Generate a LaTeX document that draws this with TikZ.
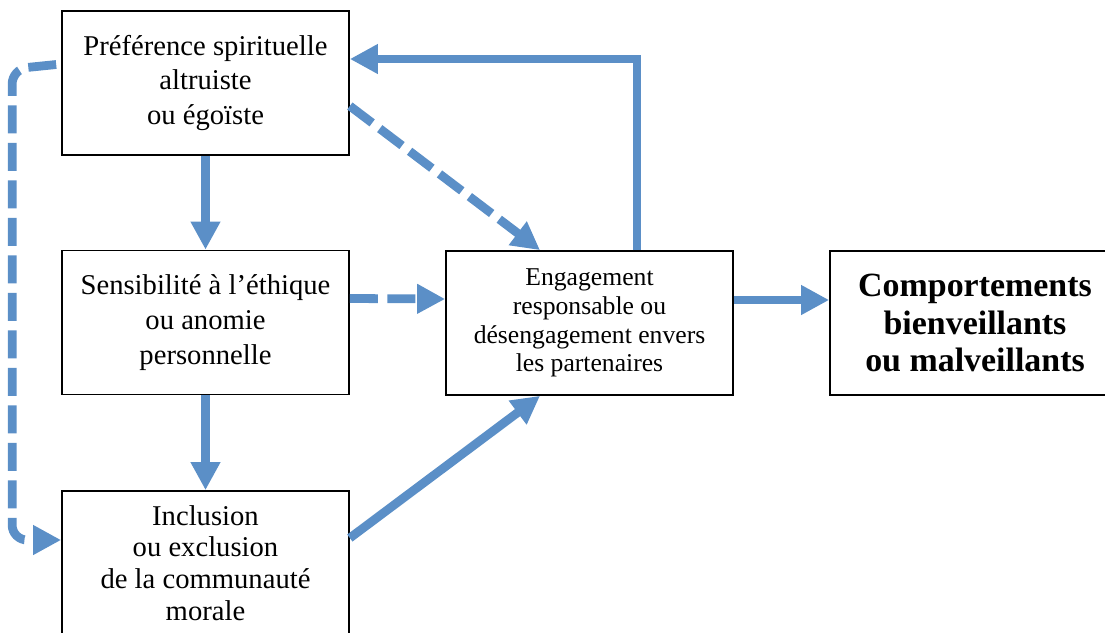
\documentclass[tikz,border=0pt]{standalone}
\usepackage{fontspec}
\setmainfont{Liberation Serif}
\usetikzlibrary{arrows.meta}
\definecolor{arrowblue}{RGB}{91,143,199}

\begin{document}
\begin{tikzpicture}[x=0.02cm, y=-0.02cm,
    box/.style={draw, line width=1pt, minimum width=5.74cm, minimum height=2.88cm,
      align=center, inner sep=2pt, font=\fontsize{16.3}{19.8}\selectfont},
    flow/.style={draw=arrowblue, line width=5pt, -{Triangle[width=0.56cm,length=0.56cm]}},
    flowdash/.style={flow, dash pattern=on 0.56cm off 0.19cm}]
    \path[use as bounding box, clip] (0,0) rectangle (1105,632);

    % boxes
    \node[box] (pref) at (205.5,83) {Préférence spirituelle\\altruiste\\ou égoïste};
    \node[box] (sens) at (205.5,322.5) {Sensibilité à l’éthique\\ou anomie\\personnelle};
    \node[box, font=\fontsize{16.3}{18}\selectfont] (incl) at (205.5,563) {Inclusion\\ou exclusion\\de la communauté\\morale};
    \node[box, font=\fontsize{14.6}{16.4}\selectfont] (engag) at (589.5,323) {Engagement\\responsable ou\\désengagement envers\\les partenaires};
    \node[box, minimum width=5.8cm, font=\bfseries\fontsize{19.3}{21.3}\selectfont] (comp) at (975,323) {Comportements\\bienveillants\\ou malveillants};

    % arrows
    \draw[flow] (pref.south) -- (sens.north);
    \draw[flow] (sens.south) -- (incl.north);
    \draw[flowdash] ([yshift=0.48cm]sens.east) -- ([yshift=0.48cm]engag.west);
    \draw[flowdash] ([yshift=-0.46cm]pref.east) -- ([xshift=-0.99cm]engag.north);
    \draw[flow] ([yshift=0.5cm]incl.east) -- ([xshift=-0.99cm]engag.south);
    \draw[flow] ([xshift=0.95cm]engag.north) |- ([yshift=0.48cm]pref.east);
    \draw[flow] ([yshift=0.46cm]engag.east) -- ([yshift=0.46cm]comp.west);
    \draw[flowdash, rounded corners=0.3cm, shorten <=0.1cm]
      ([yshift=0.38cm]pref.west) -- ++(-49,5) |- ([yshift=0.46cm]incl.west);
\end{tikzpicture}
\end{document}
